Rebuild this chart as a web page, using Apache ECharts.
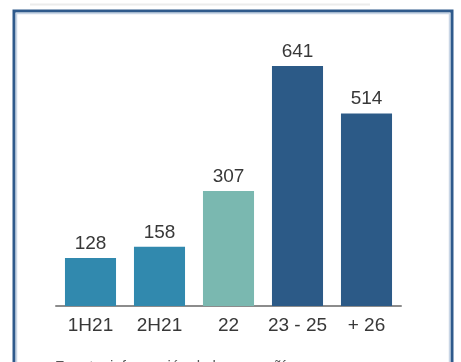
<!DOCTYPE html>
<html>
<head>
<meta charset="utf-8">
<script src="https://cdn.jsdelivr.net/npm/echarts@6/dist/echarts.min.js"></script>
<style>
  html, body { margin: 0; padding: 0; background: #ffffff; }
  #chart { width: 461px; height: 362px; }
</style>
</head>
<body>
<div id="chart"></div>
<script>
// Periods and amounts shown above each bar
const categories = ['1H21', '2H21', '22', '23 - 25', '+ 26'];
const values = [128, 158, 307, 641, 514];
const barColors = ['#3189ae', '#3189ae', '#7ab8b0', '#2c5a87', '#2c5a87'];

const chart = echarts.init(document.getElementById('chart'), null, { renderer: 'canvas' });

chart.setOption({
  animation: false,
  backgroundColor: '#ffffff',
  grid: { left: 56, right: 60, top: 44, bottom: 56 },
  xAxis: {
    type: 'category',
    data: categories,
    axisTick: { show: false },
    axisLine: { lineStyle: { color: '#8c8c8c', width: 2 } },
    axisLabel: {
      interval: 0,
      hideOverlap: false,
      color: '#383838',
      fontSize: 19,
      fontFamily: 'Liberation Sans, Arial, sans-serif',
      margin: 10
    }
  },
  yAxis: {
    type: 'value',
    min: 0,
    max: 700,
    show: false,
    splitLine: { show: false }
  },
  series: [{
    type: 'bar',
    barWidth: '74%',
    data: values.map((v, i) => ({ value: v, itemStyle: { color: barColors[i] } })),
    label: {
      show: true,
      position: 'top',
      distance: 5,
      color: '#383838',
      fontSize: 19,
      fontFamily: 'Liberation Sans, Arial, sans-serif'
    }
  }],
  graphic: [
    {
      type: 'line',
      shape: { x1: 30, y1: 4.5, x2: 370, y2: 4.5 },
      style: { stroke: '#ececec', lineWidth: 2 },
      z: 10
    },
    {
      type: 'rect',
      shape: { x: 14, y: 11, width: 438, height: 380 },
      style: { fill: 'none', stroke: '#2f5a8c', lineWidth: 3 },
      z: 10
    },
    {
      type: 'rect',
      shape: { x: 16.5, y: 13.5, width: 433, height: 380 },
      style: { fill: 'none', stroke: '#c9d6e6', lineWidth: 1.5 },
      z: 10
    },
    {
      type: 'text',
      left: 55,
      top: 359,
      style: {
        text: 'Fuente: información de la compañía',
        fill: '#555555',
        font: '15px Liberation Sans, Arial, sans-serif'
      },
      z: 10
    }
  ]
});
</script>
</body>
</html>
